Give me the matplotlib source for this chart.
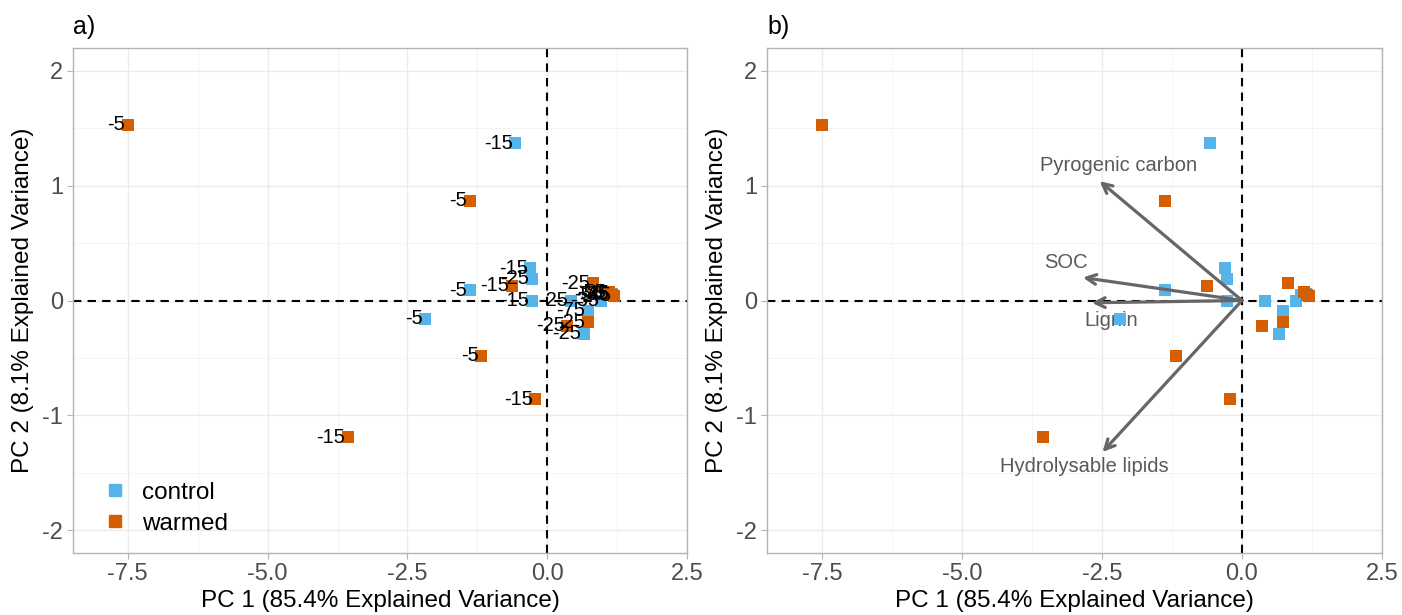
import matplotlib
matplotlib.use("Agg")
import matplotlib.pyplot as plt
from matplotlib.lines import Line2D
import numpy as np

plt.rcParams['font.family'] = ['Liberation Sans', 'DejaVu Sans']

# ---- data ----
control_pc1 = [-0.57, -1.38, -2.18, -0.30, -0.27, -0.27, 0.42, 0.73, 0.66, 0.97, 1.05, 1.15]
control_pc2 = [1.37, 0.09, -0.16, 0.28, 0.19, 0.00, 0.00, -0.09, -0.29, 0.00, 0.05, 0.06]
control_depth = ["-15", "-5", "-5", "-15", "-25", "-15", "-25", "-75", "-25", "-35", "-55", "-45"]

warmed_pc1 = [-7.50, -1.38, -1.18, -0.63, -0.21, -3.56, 0.82, 0.73, 0.36, 1.16, 1.10, 1.20]
warmed_pc2 = [1.53, 0.87, -0.48, 0.13, -0.86, -1.19, 0.15, -0.19, -0.22, 0.05, 0.07, 0.04]
warmed_depth = ["-5", "-5", "-5", "-15", "-15", "-15", "-25", "-25", "-25", "-35", "-55", "-45"]

loading_names = ["Pyrogenic carbon", "SOC", "Lignin", "Hydrolysable lipids"]
loading_pc1 = [-2.54, -2.84, -2.68, -2.49]
loading_pc2 = [1.04, 0.20, -0.02, -1.32]
label_pc1 = [-2.21, -3.15, -2.33, -2.81]
label_pc2 = [1.18, 0.33, -0.17, -1.45]

x_ticks = [-7.5, -5.0, -2.5, 0.0, 2.5]
y_ticks = [-2, -1, 0, 1, 2]

xlabel = "PC 1 (85.4% Explained Variance)"
ylabel = "PC 2 (8.1% Explained Variance)"

C_CONTROL = "#56B4E9"
C_WARMED = "#D55E00"

W, H = 1402, 615
fig = plt.figure(figsize=(W / 100, H / 100), dpi=100)

def px_axes(l, r, t, b):
    return fig.add_axes([l / W, 1 - b / H, (r - l) / W, (b - t) / H])

axa = px_axes(73, 687, 48, 553)
axb = px_axes(767, 1382, 48, 553)

MS = 66

def style(ax):
    ax.set_xlim(-8.48, 2.48)
    ax.set_ylim(-2.2, 2.2)
    ax.set_xticks(x_ticks)
    ax.set_xticklabels(["%.1f" % v for v in x_ticks])
    ax.set_yticks(y_ticks)
    ax.set_yticklabels([str(v) for v in y_ticks])
    ax.set_xticks([-6.25, -3.75, -1.25, 1.25], minor=True)
    ax.set_yticks([-1.5, -0.5, 0.5, 1.5], minor=True)
    ax.grid(True, which='major', color='#EBEBEB', linewidth=1.0, zorder=0)
    ax.grid(True, which='minor', color='#F3F3F3', linewidth=0.6, zorder=0)
    ax.set_axisbelow(True)
    for s in ax.spines.values():
        s.set_color('#B3B3B3')
        s.set_linewidth(1.0)
    ax.tick_params(which='major', length=4, width=0.8, color='#B3B3B3',
                   labelsize=17, labelcolor='#4D4D4D', pad=3)
    ax.tick_params(which='minor', length=0)
    ax.axhline(0, color='black', linestyle=(0, (4, 3)), linewidth=1.5, zorder=2)
    ax.axvline(0, color='black', linestyle=(0, (4, 3)), linewidth=1.5, zorder=2)
    ax.set_xlabel(xlabel, fontsize=17.5, labelpad=4)
    ax.set_ylabel(ylabel, fontsize=17.5, labelpad=6)

style(axa)
style(axb)

# ---- panel a ----
axa.scatter(control_pc1, control_pc2, marker='s', s=MS, color=C_CONTROL, linewidths=0, zorder=3)
axa.scatter(warmed_pc1, warmed_pc2, marker='s', s=MS, color=C_WARMED, linewidths=0, zorder=3)
for xs, ys, labs in [(control_pc1, control_pc2, control_depth), (warmed_pc1, warmed_pc2, warmed_depth)]:
    for x, y, t in zip(xs, ys, labs):
        axa.annotate(t, (x, y), xytext=(-2.0, 0), textcoords='offset points',
                     ha='right', va='center', fontsize=14.5, color='black', zorder=4)

leg_handles = [
    Line2D([], [], marker='s', linestyle='none', markersize=9, color=C_CONTROL, label='control'),
    Line2D([], [], marker='s', linestyle='none', markersize=9, color=C_WARMED, label='warmed'),
]
axa.legend(handles=leg_handles, loc='lower left', bbox_to_anchor=(0.0526, 0.036), frameon=False,
           fontsize=17.5, handlelength=0.8, handletextpad=0.71, labelspacing=0.38,
           borderpad=0, borderaxespad=0)

axa.text(0.0, 1.017, "a)", transform=axa.transAxes, fontsize=18, ha='left', va='bottom')

# ---- panel b ----
for t, x, y in zip(loading_names, label_pc1, label_pc2):
    axb.text(x, y, t, ha='center', va='center', fontsize=14.5, color='#595959', zorder=2.5)
axb.scatter(control_pc1, control_pc2, marker='s', s=MS, color=C_CONTROL, linewidths=0, zorder=3)
axb.scatter(warmed_pc1, warmed_pc2, marker='s', s=MS, color=C_WARMED, linewidths=0, zorder=3)
for x, y in zip(loading_pc1, loading_pc2):
    axb.annotate("", xy=(x, y), xytext=(0, 0),
                 arrowprops=dict(arrowstyle='->,head_length=0.7,head_width=0.35',
                                 color='#666666', lw=2.3, shrinkA=0, shrinkB=0),
                 zorder=4)

axb.text(0.0, 1.017, "b)", transform=axb.transAxes, fontsize=18, ha='left', va='bottom')

fig.savefig("out.png", dpi=100)
